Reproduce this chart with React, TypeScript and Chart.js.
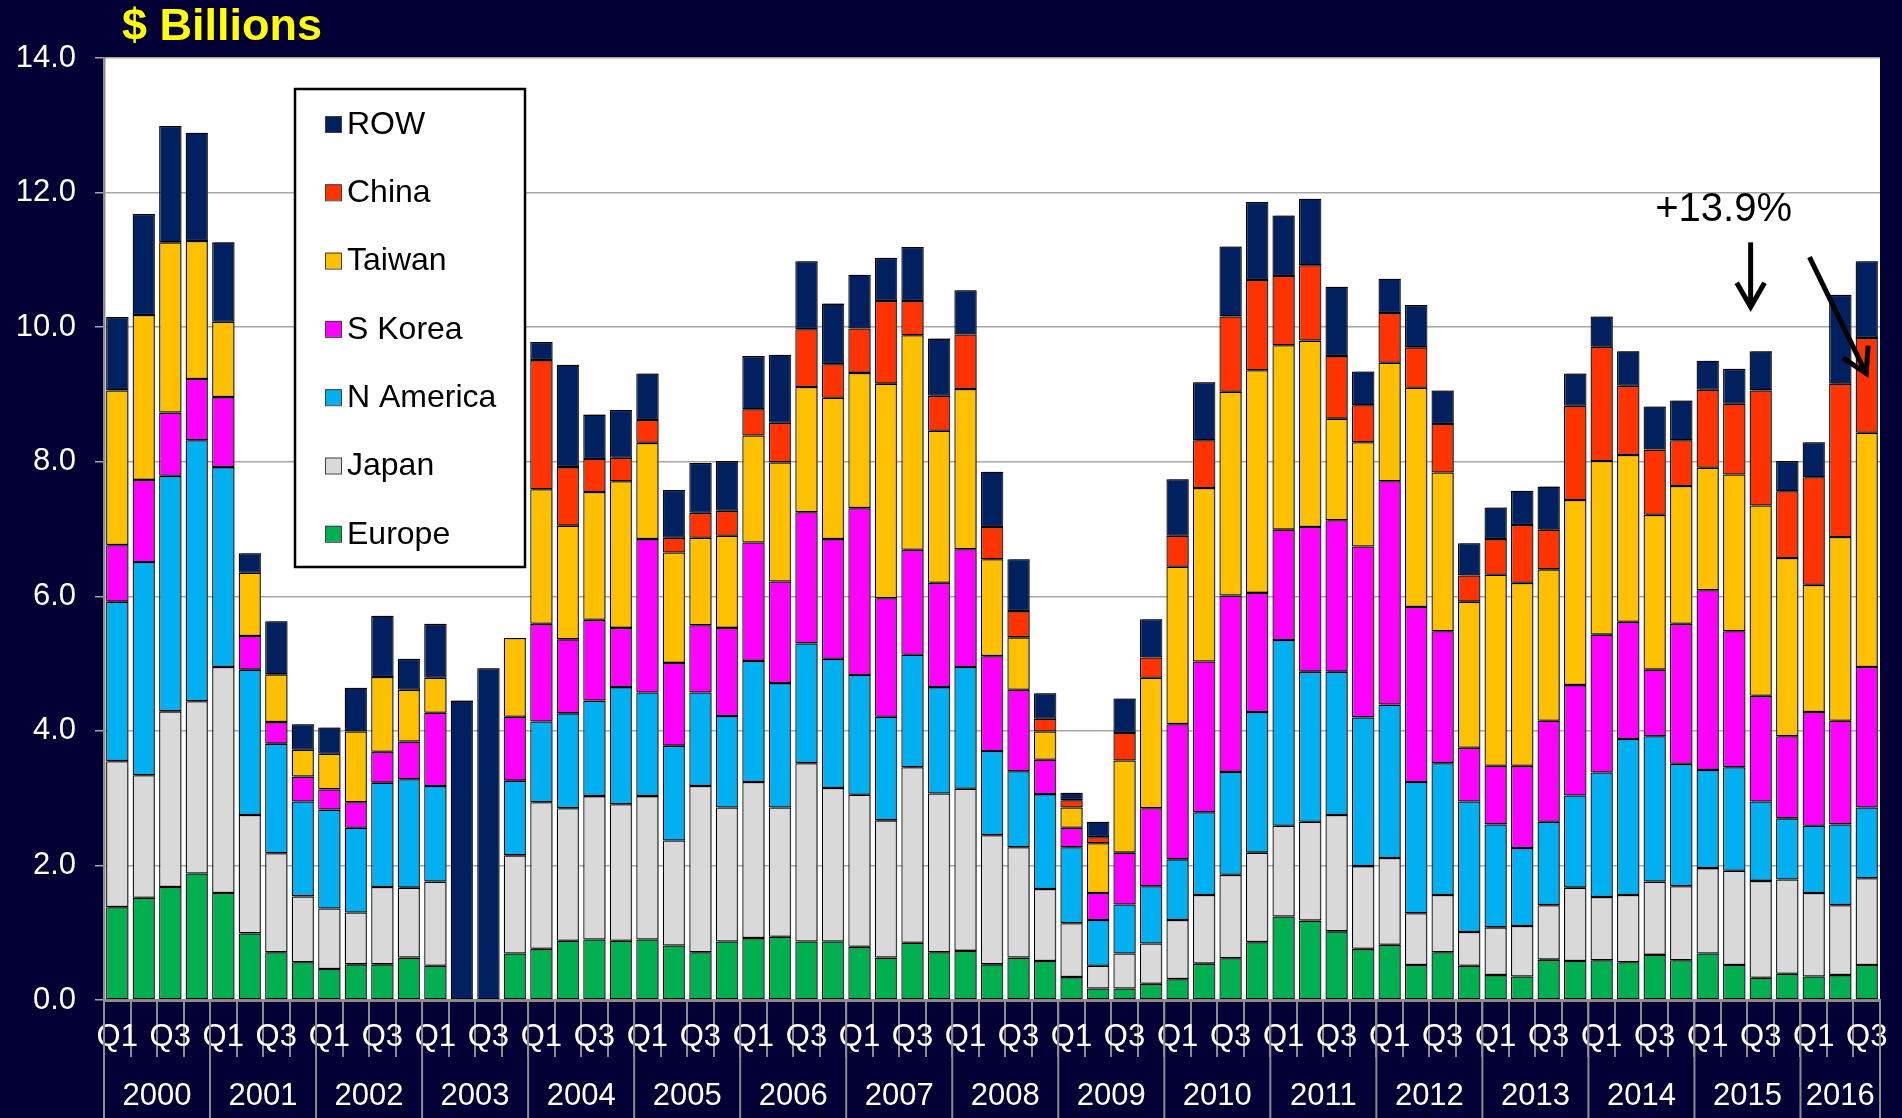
import React, { useEffect, useRef } from 'react';
import { Chart, registerables } from 'chart.js';

Chart.register(...registerables);

const years = ['2000','2001','2002','2003','2004','2005','2006','2007','2008','2009','2010','2011','2012','2013','2014','2015','2016'];
const quartersPerYear = [4,4,4,4,4,4,4,4,4,4,4,4,4,4,4,4,3];
const quarterNames = ['Q1','Q2','Q3','Q4'];

const europe = [1.38,1.52,1.68,1.88,1.59,0.99,0.71,0.56,0.46,0.53, 0.53,0.63,0.51,null,null,0.69,0.76,0.88,0.90,0.88, 0.90,0.81,0.71,0.87,0.92,0.94,0.87,0.87,0.79,0.63, 0.85,0.71,0.73,0.53,0.63,0.58,0.34,0.17,0.17,0.24, 0.31,0.54,0.62,0.86,1.24,1.18,1.02,0.76,0.82,0.52, 0.71,0.51,0.37,0.35,0.60,0.58,0.59,0.56,0.67,0.59, 0.69,0.52,0.33,0.39,0.35,0.37,0.52];
const japan = [2.17,1.82,2.61,2.56,3.36,1.76,1.47,0.98,0.90,0.77, 1.15,1.04,1.25,null,null,1.46,2.18,1.97,2.13,2.03, 2.13,1.56,2.47,1.99,2.32,1.92,2.65,2.28,2.26,2.04, 2.61,2.36,2.41,1.92,1.64,1.07,0.80,0.34,0.52,0.60, 0.88,1.02,1.24,1.33,1.35,1.47,1.73,1.23,1.29,0.77, 0.85,0.50,0.71,0.75,0.81,1.09,0.94,1.00,1.09,1.10, 1.27,1.40,1.44,1.40,1.24,1.04,1.29];
const nAmerica = [2.37,3.17,3.50,3.88,2.97,2.16,1.63,1.41,1.47,1.26, 1.55,1.61,1.42,null,null,1.11,1.20,1.41,1.42,1.74, 1.54,1.41,1.39,1.36,1.80,1.85,1.78,1.92,1.78,1.54, 1.67,1.58,1.81,1.25,1.13,1.41,1.13,0.68,0.73,0.85, 0.90,1.23,1.53,2.09,2.76,2.23,2.13,2.21,2.28,1.95, 1.96,1.94,1.53,1.16,1.24,1.37,1.85,2.32,2.16,1.82, 1.46,1.54,1.18,0.91,1.00,1.20,1.05];
const sKorea = [0.84,1.22,0.94,0.91,1.04,0.50,0.32,0.37,0.30,0.38, 0.46,0.56,1.09,null,null,0.95,1.45,1.10,1.20,0.88, 2.28,1.23,1.00,1.31,1.76,1.51,1.95,1.78,2.48,1.76, 1.56,1.55,1.75,1.41,1.21,0.51,0.29,0.40,0.77,1.16, 2.01,2.24,2.62,1.77,1.64,2.15,2.25,2.54,3.32,2.60, 1.96,0.80,0.87,1.22,1.50,1.64,2.05,1.74,0.99,2.08, 2.67,2.02,1.57,1.22,1.69,1.54,2.09];
const taiwan = [2.30,2.45,2.53,2.05,1.12,0.94,0.71,0.40,0.53,1.05, 1.11,0.77,0.52,null,null,1.17,2.00,1.69,1.90,2.18, 1.43,1.64,1.30,1.37,1.59,1.77,1.86,2.10,2.01,3.19, 3.19,2.26,2.38,1.44,0.78,0.42,0.30,0.74,1.37,1.94, 2.34,2.58,3.03,3.31,2.74,2.77,1.51,1.55,1.76,3.26, 2.36,2.17,2.84,2.72,2.25,2.75,2.58,2.48,2.30,2.05, 1.82,2.33,2.83,2.65,1.89,2.73,3.48];
const china = [null,null,null,null,null,null,null,null,null,null, null,null,null,null,null,null,1.92,0.87,0.49,0.35, 0.34,0.22,0.37,0.37,0.39,0.59,0.86,0.50,0.66,1.23, 0.51,0.52,0.81,0.48,0.39,0.19,0.11,0.09,0.41,0.30, 0.46,0.71,1.12,1.34,1.03,1.12,0.93,0.55,0.74,0.60, 0.72,0.39,0.53,0.86,0.59,1.40,1.70,1.03,0.97,0.68, 1.16,1.05,1.71,0.99,1.60,2.28,1.41];
const row = [1.09,1.50,1.73,1.61,1.18,0.29,0.79,0.38,0.39,0.65, 0.91,0.46,0.80,4.45,4.93,null,0.27,1.52,0.66,0.71, 0.69,0.71,0.74,0.74,0.79,1.01,1.01,0.90,0.80,0.64, 0.80,0.85,0.66,0.82,0.77,0.38,0.11,0.23,0.51,0.57, 0.84,0.86,1.04,1.16,0.90,0.99,1.03,0.50,0.51,0.63, 0.50,0.48,0.47,0.51,0.64,0.48,0.45,0.51,0.64,0.59, 0.43,0.52,0.58,0.45,0.52,1.32,1.14];

const yTicks = [0, 2, 4, 6, 8, 10, 12, 14];
const titleText = '$ Billions';
const annotationText = '+13.9%';

const seriesNames = ['Europe', 'Japan', 'N America', 'S Korea', 'Taiwan', 'China', 'ROW'];
const seriesColors = ['#00B050', '#D9D9D9', '#00B0F0', '#FF00FF', '#FFC000', '#FF3300', '#002060'];
const seriesData = [europe, japan, nAmerica, sKorea, taiwan, china, row];

const BG = '#030035';
const FONT = "'Liberation Sans', Arial, sans-serif";
const AXIS_GREY = '#8c8c8c';

const labels: string[] = [];
years.forEach((_y, yi) => {
  for (let q = 0; q < quartersPerYear[yi]; q++) labels.push(quarterNames[q]);
});

const backgroundPlugin = {
  id: 'bgPlugin',
  beforeDraw(chart: any) {
    const { ctx, chartArea } = chart;
    ctx.save();
    ctx.fillStyle = BG;
    ctx.fillRect(0, 0, chart.width, chart.height);
    ctx.fillStyle = '#ffffff';
    ctx.fillRect(chartArea.left, chartArea.top, chartArea.right - chartArea.left, chartArea.bottom - chartArea.top);
    ctx.restore();
  },
};

const shadowPlugin = {
  id: 'shadowPlugin',
  beforeDatasetsDraw(chart: any) {
    const ctx = chart.ctx;
    ctx.save();
    ctx.shadowColor = 'rgba(70,70,70,0.85)';
    ctx.shadowOffsetX = 2.5;
    ctx.shadowOffsetY = 0;
    ctx.shadowBlur = 0;
  },
  afterDatasetsDraw(chart: any) {
    chart.ctx.restore();
  },
};

const decorPlugin = {
  id: 'decorPlugin',
  afterDraw(chart: any) {
    const { ctx, chartArea } = chart;
    const xs = chart.scales.x;
    const ys = chart.scales.y;
    const cat = xs.getPixelForValue(1) - xs.getPixelForValue(0);
    const px = (idx: number) => xs.getPixelForValue(0) + idx * cat;
    ctx.save();

    // Title
    ctx.fillStyle = '#FFFF00';
    ctx.font = `bold 45px ${FONT}`;
    ctx.textAlign = 'left';
    ctx.textBaseline = 'middle';
    ctx.fillText(titleText, 122, 28);

    // Year separators and labels
    ctx.strokeStyle = AXIS_GREY;
    ctx.lineWidth = 2;
    let start = 0;
    years.forEach((y, yi) => {
      const n = quartersPerYear[yi];
      const left = px(start) - cat / 2;
      const right = px(start + n - 1) + cat / 2;
      ctx.beginPath();
      ctx.moveTo(left, chartArea.bottom);
      ctx.lineTo(left, chart.height);
      ctx.stroke();
      if (yi === years.length - 1) {
        ctx.beginPath();
        ctx.moveTo(right, chartArea.bottom);
        ctx.lineTo(right, chart.height);
        ctx.stroke();
      }
      ctx.fillStyle = '#ffffff';
      ctx.font = `31px ${FONT}`;
      ctx.textAlign = 'center';
      ctx.textBaseline = 'middle';
      ctx.fillText(y, (left + right) / 2, 1096);
      start += n;
    });

    // Legend box
    const lx = 295, ly = 89, lw = 230, lh = 478;
    ctx.fillStyle = '#ffffff';
    ctx.fillRect(lx, ly, lw, lh);
    ctx.strokeStyle = '#000000';
    ctx.lineWidth = 2.5;
    ctx.strokeRect(lx, ly, lw, lh);
    ctx.font = `32px ${FONT}`;
    ctx.textAlign = 'left';
    ctx.textBaseline = 'middle';
    for (let i = 0; i < seriesNames.length; i++) {
      const si = seriesNames.length - 1 - i;
      const cy = 124 + i * 68.3;
      ctx.fillStyle = seriesColors[si];
      ctx.fillRect(325, cy - 8, 16, 16);
      ctx.strokeStyle = '#404040';
      ctx.lineWidth = 1;
      ctx.strokeRect(325.5, cy - 7.5, 16, 16);
      ctx.fillStyle = '#000000';
      ctx.fillText(seriesNames[si], 347, cy + 1);
    }

    // Annotation
    ctx.fillStyle = '#000000';
    ctx.font = `40px ${FONT}`;
    ctx.textAlign = 'center';
    ctx.textBaseline = 'middle';
    ctx.fillText(annotationText, px(60.6), ys.getPixelForValue(11.74));

    const drawArrow = (x1: number, y1: number, x2: number, y2: number) => {
      ctx.strokeStyle = '#000000';
      ctx.lineWidth = 5;
      ctx.lineCap = 'butt';
      ctx.beginPath();
      ctx.moveTo(x1, y1);
      ctx.lineTo(x2, y2);
      ctx.stroke();
      const ang = Math.atan2(y2 - y1, x2 - x1);
      const L = 28, A = 0.52;
      ctx.beginPath();
      ctx.moveTo(x2 - L * Math.cos(ang - A), y2 - L * Math.sin(ang - A));
      ctx.lineTo(x2, y2);
      ctx.lineTo(x2 - L * Math.cos(ang + A), y2 - L * Math.sin(ang + A));
      ctx.stroke();
    };
    drawArrow(px(61.62), ys.getPixelForValue(11.26), px(61.62), ys.getPixelForValue(10.30));
    drawArrow(px(63.84), ys.getPixelForValue(11.04), px(65.98), ys.getPixelForValue(9.31));

    ctx.restore();
  },
};

export default function App() {
  const ref = useRef<HTMLCanvasElement>(null);
  useEffect(() => {
    document.body.style.margin = '0';
    document.body.style.background = BG;
    Chart.defaults.font.family = FONT;
    const chart = new Chart(ref.current as HTMLCanvasElement, {
      type: 'bar',
      data: {
        labels,
        datasets: seriesNames.map((name, i) => ({
          label: name,
          data: seriesData[i] as any,
          backgroundColor: seriesColors[i],
          borderColor: '#000000',
          borderWidth: 1.3,
          borderSkipped: false,
          barPercentage: 0.84,
          categoryPercentage: 1.0,
        })),
      },
      options: {
        animation: false,
        responsive: false,
        maintainAspectRatio: false,
        layout: { padding: { top: 58, right: 22, left: 0, bottom: 0 } },
        plugins: {
          legend: { display: false },
          tooltip: { enabled: false },
          title: { display: false },
        },
        scales: {
          x: {
            stacked: true,
            offset: true,
            grid: {
              offset: true,
              drawOnChartArea: false,
              drawTicks: true,
              tickLength: 57,
              color: AXIS_GREY,
              lineWidth: 2,
            },
            border: { display: true, color: AXIS_GREY, width: 3 },
            ticks: {
              autoSkip: false,
              maxRotation: 0,
              minRotation: 0,
              color: '#ffffff',
              font: { size: 31, family: FONT },
              padding: -38,
              callback: (_v: any, i: number) => (i % 2 === 0 ? labels[i] : ''),
            },
            afterFit: (s: any) => { s.height = 118; },
          },
          y: {
            stacked: true,
            min: 0,
            max: 14,
            afterBuildTicks: (s: any) => { s.ticks = yTicks.map((v) => ({ value: v })); },
            ticks: {
              color: '#ffffff',
              font: { size: 31, family: FONT },
              padding: 19,
              callback: (v: any) => Number(v).toFixed(1),
            },
            grid: { color: '#a6a6a6', lineWidth: 1.5, tickLength: 9, drawTicks: true },
            border: { display: true, color: AXIS_GREY, width: 2.5 },
            afterFit: (s: any) => { s.width = 104; },
          },
        },
      },
      plugins: [backgroundPlugin, shadowPlugin, decorPlugin],
    } as any);
    return () => chart.destroy();
  }, []);
  return (
    <div style={{ width: 1902, height: 1118, overflow: 'hidden' }}>
      <canvas ref={ref} width={1902} height={1118} style={{ display: 'block' }} />
    </div>
  );
}
